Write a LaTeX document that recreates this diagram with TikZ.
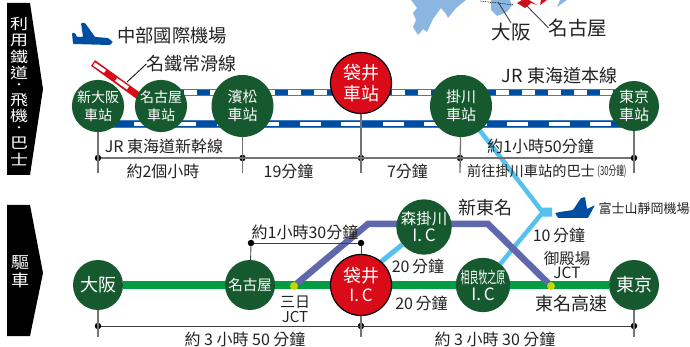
\documentclass[tikz,border=0pt]{standalone}
\usepackage{fontspec}
\setmainfont{Noto Sans CJK TC}
\usepackage{tikz}
\usetikzlibrary{backgrounds}
\definecolor{stagreen}{HTML}{17592F}
\definecolor{stared}{HTML}{D90B18}
\definecolor{railblue}{HTML}{004EA2}
\definecolor{railedge}{HTML}{3F7CBE}
\definecolor{roadgreen}{HTML}{009E41}
\definecolor{roadpurple}{HTML}{5F67AD}
\definecolor{skyblue}{HTML}{55C1EE}
\definecolor{mapblue}{HTML}{8CB6E2}
\definecolor{jctyellow}{HTML}{C8D400}
\definecolor{inkgray}{HTML}{222222}
\tikzset{
  sta/.style={circle,fill=stagreen,text=white,inner sep=0pt,minimum size=50pt,align=center,font=\fontsize{15}{18}\selectfont},
  smallsta/.style={sta,font=\fontsize{14}{18}\selectfont},
  bigsta/.style={sta,minimum size=62pt},
  redsta/.style={sta,fill=stared,draw=black,line width=1.2pt,minimum size=61pt,font=\fontsize{18}{21}\selectfont},
  lab/.style={text=inkgray,inner sep=0pt,align=center,font=\fontsize{16}{17}\selectfont},
  biglab/.style={lab,font=\fontsize{18}{20}\selectfont},
  sidelabel/.style={text=white,inner sep=0pt,align=center,yscale=.82},
  tickline/.style={draw=gray!90!black,line width=1.3pt},
  fineline/.style={draw=black!75,line width=.9pt},
  tdot/.style={circle,fill=black,inner sep=0pt,minimum size=6.5pt},
  jct/.style={circle,fill=jctyellow,inner sep=0pt,minimum size=8pt},
  plane/.style={fill=railblue,rounded corners=.8pt}
}
\begin{document}
\begin{tikzpicture}[x=1pt,y=-1pt]
\useasboundingbox (0,0) rectangle (690,347);
% side arrows
\fill (7,3) -- (30,3) -- (43,89) -- (30,175) -- (7,175) -- cycle;
\fill (7,205) -- (30,205) -- (43,273) -- (30,336) -- (7,336) -- cycle;
\foreach \ch/\yy [count=\i] in {利/23.5,用/40,鐵/57,道/73,飛/100,機/116,巴/143,士/160}
  \node[sidelabel,font=\fontsize{18}{18}\selectfont] (side\i) at (19,\yy) {\ch};
\node[sidelabel,font=\fontsize{12}{12}\selectfont] (sidedota) at (19,86.5) {·};
\node[sidelabel,font=\fontsize{12}{12}\selectfont] (sidedotb) at (19,129.5) {·};
\node[sidelabel,yscale=1.1,font=\fontsize{18}{19.5}\selectfont] (sideb) at (20,272) {驅\\車};
% map
\fill[mapblue] (411,0) -- (417,8) -- (413,13) -- (416,20) -- (413,27) -- (418,35) -- (423,29) -- (427,32) -- (433,19) -- (441,8) -- (446,14) -- (448,18) -- (456,8) -- (466,0) -- cycle;
\fill[mapblue] (491,0) -- (491,10) -- (497,16) -- (507,12) -- (512,5) -- (510,0) -- cycle;
\fill[mapblue] (557,7) -- (560,0) -- (567,0) -- cycle;
\fill[stared] (517,3) -- (522,0) -- (529,0) -- (537,5) -- (531,3) -- (525,8) -- cycle;
\fill[stared] (540,5) -- (541,0) -- (547,0) -- cycle;
\draw[black,densely dotted,line width=.7pt] (480,1) -- (514,5);
\coordinate (mapa) at (498,2);
\coordinate (mapb) at (523,2);
\node[biglab,font=\fontsize{19.5}{20}\selectfont] (osaka) at (511,32) {大阪};
\node[biglab,font=\fontsize{19.5}{20}\selectfont] (nagoya) at (578,28) {名古屋};
\draw[fineline] (mapa) -- (osaka.north);
\draw[fineline] (mapb) -- (nagoya.west);
% planes
\fill[plane] (72,33) -- (73,44) -- (110,45) -- (113,42) -- (108,38) -- (95,37) -- (85,23) -- (81,23) -- (83,37) -- (77,37) -- (75,33) -- cycle;
\fill[plane] (555,213) -- (558,218) -- (588,218) -- (595,205) -- (587,209) -- (585,197) -- (581,198) -- (573,210) -- (560,212) -- cycle;
% rail stations
\node[smallsta] (shinosaka) at (98,106) {新大阪\\車站};
\node[smallsta] (nagoyast) at (161,106) {名古屋\\車站};
\node[bigsta] (hamamatsu) at (242.5,106) {濱松\\車站};
\node[redsta] (fukuroi) at (361,83) {袋井\\車站};
\node[bigsta] (kakegawa) at (461,106) {掛川\\車站};
\node[sta] (tokyost) at (634,106) {東京\\車站};
\coordinate (upw) at (161,92.5);
\coordinate (upe) at (634,92.5);
\coordinate (loww) at (98,124);
\coordinate (lowe) at (634,124);
\coordinate (meia) at (93,63);
\coordinate (meib) at (140,97);
\coordinate (meic) at (127,82);
\begin{scope}[on background layer]
\draw[railedge,line width=7.6pt] (upw) -- (upe);
\draw[railblue,line width=5.6pt] (upw) -- (upe);
\draw[white,line width=4.4pt,dash pattern=on 12.7pt off 13.3pt,dash phase=3pt] (upw) -- (upe);
\draw[railedge,line width=7.6pt] (loww) -- (lowe);
\draw[railblue,line width=5.6pt] (loww) -- (lowe);
\draw[white,line width=4.4pt,dash pattern=on 21pt off 20.5pt,dash phase=6pt] (loww) -- (lowe);
\draw[stared,line width=7pt] (meia) -- (meib);
\draw[white,line width=3.6pt] (94,64) -- (105,71.5);
\draw[white,line width=3.6pt] (116,79.5) -- (128,88);
\end{scope}
\node[biglab] (meitetsu) at (191.5,64) {名鐵常滑線};
\draw[black,line width=.8pt] (meic) -- (meitetsu.west);
\node[biglab,font=\fontsize{18.3}{20}\selectfont] (chubu) at (172,36) {中部國際機場};
% rail time line
\coordinate (ta) at (98,173);
\coordinate (tb) at (242.5,173);
\coordinate (tc) at (361,173);
\coordinate (td) at (460,173);
\coordinate (te) at (634,173);
\node[tdot] (da) at (98,158) {};
\node[tdot] (db) at (242.5,158) {};
\node[tdot] (dc) at (361,158) {};
\node[tdot] (dd) at (460,158) {};
\node[tdot] (de) at (634,158) {};
\draw[tickline] (da) -- (de);
\draw[tickline] (shinosaka) -- (ta);
\draw[tickline] (hamamatsu) -- (tb);
\draw[tickline] (fukuroi) -- (tc);
\draw[tickline] (kakegawa) -- (td);
\draw[tickline] (tokyost) -- (te);
\node[lab] (shinkansen) at (164,146) {JR 東海道新幹線};
\node[biglab] (honsen) at (559.5,76) {JR 東海道本線};
\node[lab] (ab) at (163,171) {約2個小時};
\node[lab] (bc) at (288.5,171) {19分鐘};
\node[lab] (cd) at (407.5,171) {7分鐘};
\node[lab] (dea) at (540.5,146) {約1小時50分鐘};
\node[lab,font=\fontsize{14.2}{16}\selectfont] (deb) at (531,171) {前往掛川車站的巴士};
\node[lab,font=\fontsize{14}{16}\selectfont,xscale=.55,yscale=.9] (dec) at (612,171) {(30分鐘)};
% drive stations
\node[sta,font=\fontsize{18}{20}\selectfont] (osakaic) at (98,285) {大阪};
\node[sta,font=\fontsize{14.5}{18}\selectfont] (nagoyaic) at (250,285) {名古屋};
\node[redsta] (fukuroiic) at (361,285) {袋井\\[-2pt]{\fontsize{17}{18}\selectfont I.\,C}};
\node[sta,font=\fontsize{15.5}{18}\selectfont] (moriic) at (424,227) {森掛川\\[-1pt]{\fontsize{17}{18}\selectfont I.\,C}};
\node[sta] (sagaraic) at (483,285) {\scalebox{.56}[1]{\fontsize{16}{16}\selectfont 相良牧之原}\\[-1pt]{\fontsize{17}{18}\selectfont I.\,C}};
\node[sta,font=\fontsize{18}{20}\selectfont] (tokyoic) at (634,285) {東京};
\node[jct] (jctmikka) at (294,286) {};
\node[jct] (jctgote) at (551,286) {};
\coordinate (benda) at (368,224);
\coordinate (bendb) at (488,224);
\coordinate (splita) at (541,210);
\coordinate (splitb) at (541,214.5);
\coordinate (stuba) at (552,210);
\coordinate (stubb) at (552,214.5);
\coordinate (skya) at (361,278);
\begin{scope}[on background layer]
\draw[roadgreen,line width=7.5pt] (osakaic) -- (tokyoic);
\draw[skyblue,line width=5pt] (skya) -- (moriic);
\draw[skyblue,line width=4.5pt] (kakegawa) -- (splita) -- (stuba);
\draw[skyblue,line width=4.5pt] (sagaraic) -- (splitb) -- (stubb);
\draw[roadpurple,line width=6.5pt] (jctmikka) -- (benda) -- (bendb) -- (jctgote);
\end{scope}
% drive time lines
\coordinate (ua) at (98,337);
\coordinate (ub) at (361,337);
\coordinate (uc) at (634,337);
\node[tdot] (ea) at (98,326) {};
\node[tdot] (eb) at (361,326) {};
\node[tdot] (ec) at (634,326) {};
\node[tdot] (fa) at (251,243) {};
\node[tdot] (fb) at (361,243) {};
\draw[fineline] (ea) -- (ec);
\draw[fineline] (fa) -- (fb);
\draw[fineline] (fa) -- (nagoyaic);
\draw[fineline] (fb) -- (fukuroiic);
\draw[tickline] (osakaic) -- (ua);
\draw[tickline] (fukuroiic) -- (ub);
\draw[tickline] (tokyoic) -- (uc);
\node[lab] (timea) at (305,232) {約1小時30分鐘};
\node[biglab] (shintomei) at (485,208) {新東名};
\node[lab,font=\fontsize{13}{15}\selectfont] (fuji) at (644,209) {富士山靜岡機場};
\node[lab] (timeb) at (559,235) {10\,分鐘};
\node[lab,font=\fontsize{15.5}{14.5}\selectfont] (gotemba) at (567,265) {御殿場\\JCT};
\node[lab] (timec) at (418,266) {20\,分鐘};
\node[lab] (timed) at (421.5,303) {20\,分鐘};
\node[biglab] (tomei) at (571,304) {東名高速};
\node[lab,font=\fontsize{15}{15}\selectfont] (mikka) at (295,309.5) {三日\\JCT};
\node[lab] (timee) at (245,339) {約 3 小時 50 分鐘};
\node[lab] (timef) at (495,339) {約 3 小時 30 分鐘};
\end{tikzpicture}
\end{document}
